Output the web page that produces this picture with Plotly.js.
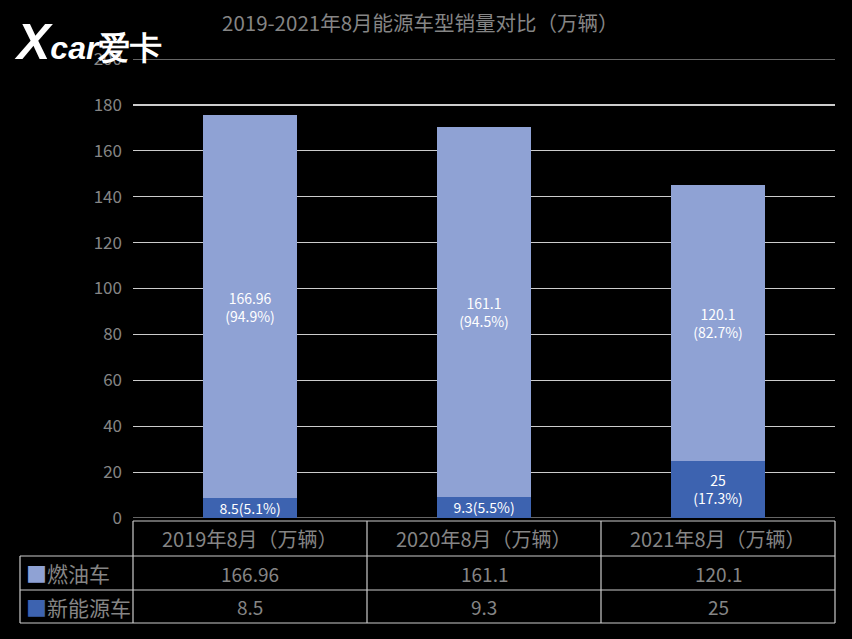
<!DOCTYPE html>
<html>
<head>
<meta charset="utf-8">
<script src="https://cdn.plot.ly/plotly-3.0.1.min.js"></script>
<style>html,body{margin:0;padding:0;background:#000;}#chart{width:852px;height:639px;}</style>
</head>
<body>
<div id="chart"></div>
<script>
// ---- data ----
var categories = ["2019年8月（万辆）", "2020年8月（万辆）", "2021年8月（万辆）"];
var seriesNames = ["燃油车", "新能源车"];
var fuelValues = [166.96, 161.1, 120.1];
var nevValues = [8.5, 9.3, 25];
var fuelPct = ["94.9%", "94.5%", "82.7%"];
var nevPct = ["5.1%", "5.5%", "17.3%"];
var yTicks = [0, 20, 40, 60, 80, 100, 120, 140, 160, 180, 200];
var titleText = "2019-2021年8月能源车型销量对比（万辆）";

var fuelColor = "#8FA2D4";
var nevColor = "#3D63B0";
var grey = "#858585";
var lineColor = "#cccccc";
var font = "'Noto Sans CJK SC', 'Noto Sans', sans-serif";

var fuelLabels = fuelValues.map(function (v, i) { return v + "<br>(" + fuelPct[i] + ")"; });
var nevLabels = nevValues.map(function (v, i) {
  return v >= 20 ? (v + "<br>(" + nevPct[i] + ")") : (v + "(" + nevPct[i] + ")");
});

var traces = [
  {
    type: "bar", name: seriesNames[1], x: categories, y: nevValues,
    marker: { color: nevColor }, width: 0.4,
    text: nevLabels, textposition: "inside", insidetextanchor: "middle",
    constraintext: "none", textfont: { color: "#ffffff", size: 14, family: font },
    hoverinfo: "skip"
  },
  {
    type: "bar", name: seriesNames[0], x: categories, y: fuelValues,
    marker: { color: fuelColor }, width: 0.4,
    text: fuelLabels, textposition: "inside", insidetextanchor: "middle",
    constraintext: "none", textfont: { color: "#ffffff", size: 14, family: font },
    hoverinfo: "skip"
  }
];

// ---- table geometry (pixels -> paper) ----
var L = 133, R = 835, T = 59, B = 518;
var W = R - L, H = B - T;
function px(x) { return (x - L) / W; }
function py(y) { return (B - y) / H; }

var rowTop = 521, row1 = 556, row2 = 590, rowBot = 623, leftEdge = 20;
var shapes = [];
function line(x0, y0, x1, y1) {
  shapes.push({ type: "line", xref: "paper", yref: "paper",
    x0: px(x0), y0: py(y0), x1: px(x1), y1: py(y1),
    line: { color: lineColor, width: 1.2 } });
}
// gridlines at the axis range edges (0 and 200)
[yTicks[0], yTicks[yTicks.length - 1]].forEach(function (v) {
  shapes.push({ type: "line", xref: "paper", yref: "y", x0: 0, x1: 1, y0: v, y1: v,
    line: { color: lineColor, width: 1.2 }, layer: "below" });
});
line(L, rowTop, R, rowTop);
line(leftEdge, row1, R, row1);
line(leftEdge, row2, R, row2);
line(leftEdge, rowBot, R, rowBot);
line(leftEdge, row1, leftEdge, rowBot);
for (var c = 0; c <= categories.length; c++) {
  var xc = L + c * W / categories.length;
  line(xc, rowTop, xc, rowBot);
}

var annotations = [];
function ann(text, x, y, size, color, anchor) {
  annotations.push({ text: text, xref: "paper", yref: "paper", x: px(x), y: py(y),
    xanchor: anchor || "center", yanchor: "middle", showarrow: false,
    font: { family: font, size: size, color: color } });
}
categories.forEach(function (cat, i) {
  var xc = L + (i + 0.5) * W / categories.length;
  ann(cat, xc, (rowTop + row1) / 2, 20, grey);
  ann(String(fuelValues[i]), xc, (row1 + row2) / 2, 19, grey);
  ann(String(nevValues[i]), xc, (row2 + rowBot) / 2, 19, grey);
});
ann("<span style='color:" + fuelColor + "'>■</span>" + seriesNames[0], 24, (row1 + row2) / 2, 21, grey, "left");
ann("<span style='color:" + nevColor + "'>■</span>" + seriesNames[1], 24, (row2 + rowBot) / 2, 21, grey, "left");

// title
ann(titleText, 420, 22, 20.5, grey);
// logo
annotations.push({ text: "<b><i><span style='font-size:50px'>X</span>car</i></b><b>爱卡</b>", xref: "paper", yref: "paper",
  x: px(12), y: py(42), xanchor: "left", yanchor: "middle", showarrow: false,
  font: { family: "'Liberation Sans', Arial, sans-serif", size: 32, color: "#ffffff" } });

var layout = {
  width: 852, height: 639,
  paper_bgcolor: "#000000", plot_bgcolor: "#000000",
  margin: { l: L, r: 852 - R, t: T, b: 639 - B, pad: 0 },
  barmode: "stack", bargap: 0.6, showlegend: false,
  xaxis: { showticklabels: false, showgrid: false, zeroline: false, showline: false, ticks: "" },
  yaxis: { range: [0, 200], tickvals: yTicks, showgrid: true, gridcolor: lineColor, gridwidth: 1.2,
    zeroline: false, showline: false, ticks: "", ticklabelstandoff: 10,
    tickfont: { family: font, size: 17, color: grey } },
  shapes: shapes, annotations: annotations,
  font: { family: font }
};

Plotly.newPlot("chart", traces, layout, { displayModeBar: false, staticPlot: true });
</script>
</body>
</html>
